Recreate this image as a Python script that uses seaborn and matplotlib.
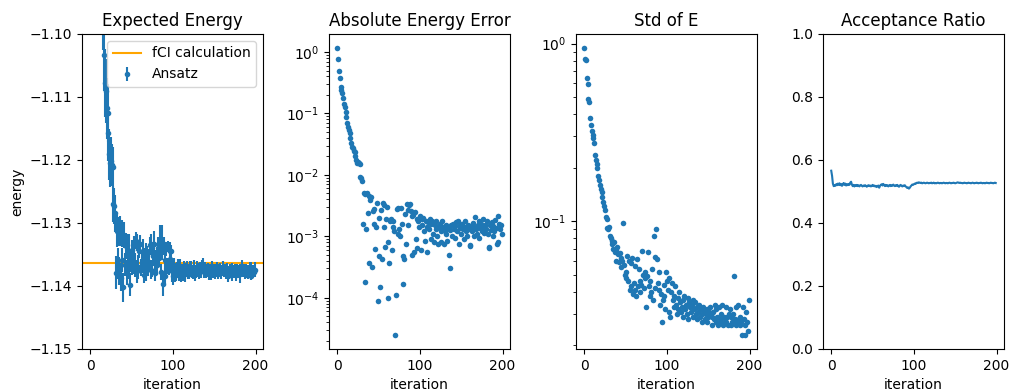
import numpy as np
import pandas as pd
import matplotlib
matplotlib.use("Agg")
import matplotlib.pyplot as plt
import seaborn as sns

# ---------------- data ----------------
iterations = list(range(200))

fci_energy = -1.13629
n_samples = 1000  # samples per iteration (error bar = std / sqrt(n))

energy = [
    0.01371, -0.35629, -0.64629, -0.75629, -0.87129, -0.89129, -0.92129, -0.95829, -0.99329, -1.00829,
    -1.03229, -1.04929, -1.06529, -1.07529, -1.08329, -1.08829, -1.09629, -1.10329, -1.10779, -1.10909,
    -1.11179, -1.11249, -1.11579, -1.11909, -1.12049, -1.12009, -1.12079, -1.12119, -1.12699, -1.12729,
    -1.12849, -1.13789, -1.13129, -1.13647, -1.13139, -1.13759, -1.13129, -1.13869, -1.13169, -1.13592,
    -1.14019, -1.13189, -1.13661, -1.13369, -1.13789, -1.13349, -1.13692, -1.13489, -1.13979, -1.13620,
    -1.13429, -1.13677, -1.13614, -1.13359, -1.13672, -1.13279, -1.13769, -1.13309, -1.13697, -1.13439,
    -1.13329, -1.13709, -1.13619, -1.13666, -1.13449, -1.13819, -1.13569, -1.13449, -1.13769, -1.13509,
    -1.136265, -1.13618, -1.13349, -1.13739, -1.13339, -1.13759, -1.13529, -1.13339, -1.13789, -1.13612,
    -1.13581, -1.13671, -1.13399, -1.13554, -1.13299, -1.13779, -1.13359, -1.13309, -1.13969, -1.13369,
    -1.13839, -1.13580, -1.13409, -1.13684, -1.13379, -1.13719, -1.13439, -1.13564, -1.13449, -1.13769,
    -1.13839, -1.13689, -1.13819, -1.13779, -1.13829, -1.13749, -1.13714, -1.13809, -1.13769, -1.13684,
    -1.13799, -1.13759, -1.13819, -1.13719, -1.13789, -1.13809, -1.13739, -1.13709, -1.13779, -1.13804,
    -1.13759, -1.13729, -1.13704, -1.13769, -1.13789, -1.13709, -1.13749, -1.13804, -1.13769, -1.13704,
    -1.13749, -1.13779, -1.13739, -1.13714, -1.13764, -1.13679, -1.13660, -1.13754, -1.13779, -1.13729,
    -1.13789, -1.13759, -1.13724, -1.13774, -1.13799, -1.13749, -1.13809, -1.13704, -1.13764, -1.13779,
    -1.13739, -1.13789, -1.13759, -1.13719, -1.13769, -1.13804, -1.13749, -1.13729, -1.13784, -1.13759,
    -1.13701, -1.13699, -1.13774, -1.13749, -1.13794, -1.13729, -1.13769, -1.13834, -1.13759, -1.13739,
    -1.13779, -1.13809, -1.13724, -1.13764, -1.13789, -1.13749, -1.13819, -1.13769, -1.13744, -1.13784,
    -1.13759, -1.13804, -1.13739, -1.13695, -1.13694, -1.13779, -1.13754, -1.13799, -1.13729, -1.13774,
    -1.13749, -1.13814, -1.13764, -1.13704, -1.13709, -1.13839, -1.13789, -1.13759, -1.13784, -1.13739,
]

std_energy = [
    0.94, 0.82, 0.81, 0.64, 0.59, 0.49, 0.47, 0.38, 0.35, 0.32,
    0.305, 0.295, 0.275, 0.235, 0.22, 0.21, 0.20, 0.18, 0.17, 0.16,
    0.152, 0.146, 0.137, 0.128, 0.122, 0.116, 0.106, 0.103, 0.092, 0.090,
    0.093, 0.083, 0.081, 0.077, 0.074, 0.070, 0.076, 0.067, 0.069, 0.060,
    0.072, 0.065, 0.059, 0.066, 0.062, 0.055, 0.060, 0.098, 0.057, 0.050,
    0.052, 0.048, 0.064, 0.046, 0.060, 0.041, 0.058, 0.043, 0.062, 0.039,
    0.045, 0.041, 0.056, 0.038, 0.061, 0.043, 0.054, 0.040, 0.046, 0.044,
    0.068, 0.050, 0.042, 0.048, 0.052, 0.033, 0.049, 0.067, 0.043, 0.038,
    0.046, 0.040, 0.054, 0.036, 0.083, 0.042, 0.063, 0.090, 0.061, 0.045,
    0.041, 0.052, 0.034, 0.039, 0.027, 0.036, 0.044, 0.038, 0.032, 0.052,
    0.046, 0.041, 0.031, 0.048, 0.029, 0.040, 0.045, 0.036, 0.033, 0.038,
    0.043, 0.034, 0.030, 0.037, 0.032, 0.040, 0.035, 0.031, 0.033, 0.029,
    0.036, 0.038, 0.032, 0.034, 0.030, 0.037, 0.028, 0.035, 0.033, 0.031,
    0.034, 0.036, 0.029, 0.032, 0.035, 0.030, 0.033, 0.028, 0.031, 0.034,
    0.029, 0.032, 0.030, 0.027, 0.033, 0.031, 0.028, 0.030, 0.032, 0.027,
    0.029, 0.031, 0.033, 0.030, 0.026, 0.029, 0.031, 0.028, 0.034, 0.027,
    0.032, 0.029, 0.026, 0.033, 0.028, 0.030, 0.027, 0.034, 0.026, 0.029,
    0.028, 0.033, 0.027, 0.029, 0.026, 0.030, 0.032, 0.026, 0.029, 0.027,
    0.030, 0.049, 0.028, 0.026, 0.033, 0.027, 0.034, 0.028, 0.026, 0.029,
    0.027, 0.023, 0.033, 0.028, 0.026, 0.023, 0.031, 0.027, 0.024, 0.036,
]

acceptance = [
    0.566, 0.550, 0.525, 0.517, 0.520, 0.518, 0.523, 0.520, 0.525, 0.521,
    0.526, 0.520, 0.524, 0.518, 0.522, 0.527, 0.521, 0.525, 0.519, 0.523,
    0.520, 0.524, 0.521, 0.528, 0.531, 0.522, 0.517, 0.521, 0.516, 0.520,
    0.518, 0.521, 0.517, 0.520, 0.516, 0.519, 0.521, 0.518, 0.516, 0.519,
    0.517, 0.520, 0.518, 0.515, 0.518, 0.520, 0.517, 0.519, 0.516, 0.518,
    0.521, 0.517, 0.519, 0.516, 0.518, 0.514, 0.517, 0.519, 0.512, 0.518,
    0.521, 0.523, 0.519, 0.524, 0.520, 0.517, 0.521, 0.518, 0.520, 0.516,
    0.519, 0.521, 0.517, 0.520, 0.518, 0.522, 0.519, 0.517, 0.520, 0.518,
    0.521, 0.517, 0.515, 0.519, 0.521, 0.518, 0.516, 0.519, 0.517, 0.520,
    0.516, 0.514, 0.511, 0.513, 0.509, 0.512, 0.516, 0.519, 0.522, 0.521,
    0.523, 0.525, 0.524, 0.527, 0.528, 0.527, 0.529, 0.528, 0.527, 0.528,
    0.526, 0.527, 0.528, 0.527, 0.526, 0.527, 0.528, 0.527, 0.526, 0.527,
    0.527, 0.528, 0.526, 0.527, 0.528, 0.526, 0.527, 0.526, 0.527, 0.528,
    0.527, 0.526, 0.527, 0.527, 0.526, 0.527, 0.528, 0.527, 0.526, 0.527,
    0.527, 0.526, 0.527, 0.528, 0.527, 0.526, 0.527, 0.527, 0.528, 0.527,
    0.526, 0.527, 0.528, 0.529, 0.528, 0.527, 0.528, 0.527, 0.527, 0.526,
    0.527, 0.528, 0.527, 0.527, 0.526, 0.527, 0.528, 0.527, 0.527, 0.526,
    0.527, 0.528, 0.527, 0.526, 0.527, 0.527, 0.528, 0.527, 0.526, 0.527,
    0.527, 0.528, 0.527, 0.526, 0.527, 0.527, 0.526, 0.527, 0.528, 0.527,
    0.527, 0.526, 0.527, 0.528, 0.527, 0.527, 0.526, 0.527, 0.528, 0.527,
]

titles = ["Expected Energy", "Absolute Energy Error", "Std of E", "Acceptance Ratio"]

# ---------------- derived table ----------------
df = pd.DataFrame({
    "iteration": iterations,
    "energy": energy,
    "std": std_energy,
    "acceptance": acceptance,
})
df["abs_err"] = (df["energy"] - fci_energy).abs()
df["yerr"] = df["std"] / np.sqrt(n_samples)

# ---------------- figure ----------------
fig, axes = plt.subplots(1, 4, figsize=(10.09, 3.92), dpi=100)
fig.subplots_adjust(left=0.0813, right=0.995, bottom=0.1097, top=0.9133, wspace=0.365)

blue = "#1f77b4"

# Panel 1: expected energy with error bars
ax = axes[0]
ax.axhline(fci_energy, color="orange", label="fCI calculation")
ax.errorbar(df["iteration"], df["energy"], yerr=df["yerr"], fmt=".", color=blue, label="Ansatz")
ax.set_ylim(-1.15, -1.10)
ax.set_ylabel("energy")
ax.set_xlabel("iteration")
ax.set_title(titles[0])
ax.legend(loc="upper right")

# Panel 2: absolute energy error
ax = axes[1]
sns.scatterplot(data=df, x="iteration", y="abs_err", ax=ax, s=16, linewidth=0, color=blue)
ax.set_yscale("log")
ax.set_xlabel("iteration")
ax.set_ylabel("")
ax.set_title(titles[1])

# Panel 3: std of E
ax = axes[2]
sns.scatterplot(data=df, x="iteration", y="std", ax=ax, s=16, linewidth=0, color=blue)
ax.set_yscale("log")
ax.set_xlabel("iteration")
ax.set_ylabel("")
ax.set_title(titles[2])

# Panel 4: acceptance ratio
ax = axes[3]
sns.lineplot(data=df, x="iteration", y="acceptance", ax=ax, color=blue)
ax.set_ylim(0, 1)
ax.set_xlabel("iteration")
ax.set_ylabel("")
ax.set_title(titles[3])

for ax in axes:
    ax.set_xticks([0, 100, 200])

fig.savefig("out.png", dpi=100)
